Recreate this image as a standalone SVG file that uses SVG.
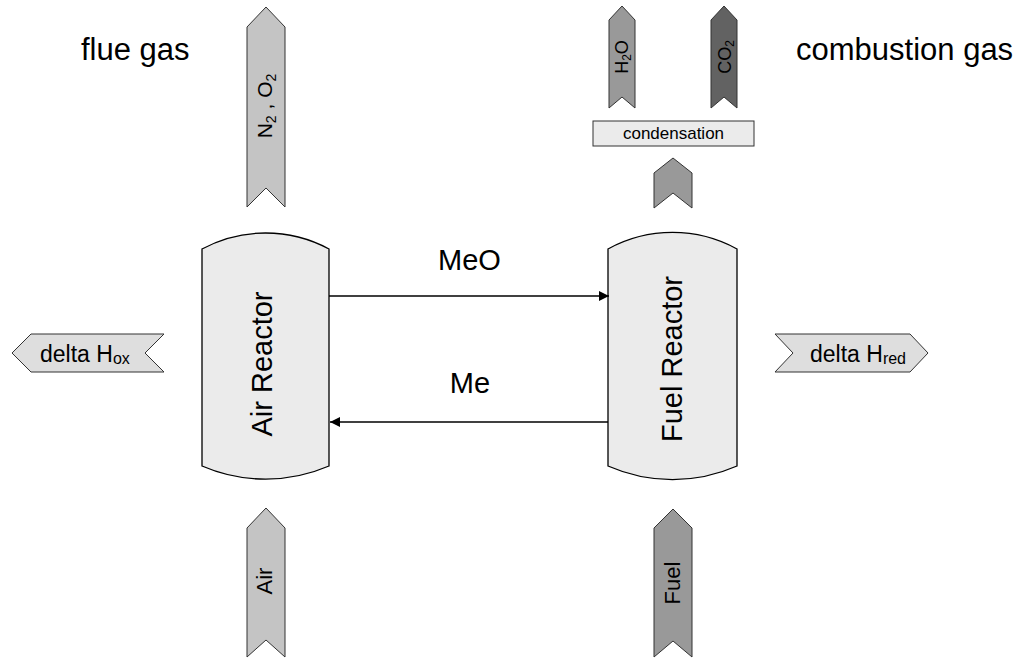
<svg xmlns="http://www.w3.org/2000/svg" width="1023" height="662" viewBox="0 0 1023 662">
<style>
text{font-family:"Liberation Sans",Arial,sans-serif;fill:#000}
.flow{stroke:#333;stroke-width:1}
.light{fill:#c4c4c4}
.mid{fill:#999999}
.dark{fill:#626262}
.reactor{fill:#ebebeb;stroke:#000;stroke-width:1.3}
.heat{fill:#dedede;stroke:#333;stroke-width:1}
.box{fill:#ebebeb;stroke:#333;stroke-width:1}
.conn{stroke:#000;stroke-width:1.3;fill:none}
</style>
<defs>
<marker id="ah" viewBox="0 0 10 10" refX="10" refY="5" markerWidth="10" markerHeight="10" markerUnits="userSpaceOnUse" orient="auto">
<path d="M0,0 L10,5 L0,10 Z" fill="#000"/>
</marker>
</defs>
<rect width="1023" height="662" fill="#fff"/>
<g id="label-flue-gas"><text x="81" y="60" font-size="31">flue gas</text></g>
<g id="label-combustion-gas"><text x="796" y="60" font-size="31">combustion gas</text></g>
<g id="flow-n2o2">
<polygon class="flow light" points="247,27 266,7 285,27 285,207 266,188 247,207"/>
<text transform="translate(272,106) rotate(-90)" text-anchor="middle" font-size="21">N<tspan font-size="14" dy="4">2</tspan><tspan dy="-4"> , O</tspan><tspan font-size="14" dy="4">2</tspan></text>
</g>
<g id="flow-h2o">
<polygon class="flow mid" points="609,20 622,6 635,20 635,108 622,97 609,108"/>
<text transform="translate(628,57) rotate(-90)" text-anchor="middle" font-size="18">H<tspan font-size="12" dy="3">2</tspan><tspan dy="-3">O</tspan></text>
</g>
<g id="flow-co2">
<polygon class="flow dark" points="711,20 724,6 737,20 737,108 724,97 711,108"/>
<text transform="translate(731,57) rotate(-90)" text-anchor="middle" font-size="18">CO<tspan font-size="12" dy="3">2</tspan></text>
</g>
<g id="condensation">
<rect class="box" x="593" y="121" width="161" height="25"/>
<text x="673.5" y="139" text-anchor="middle" font-size="17">condensation</text>
</g>
<g id="flow-to-condensation">
<polygon class="flow mid" points="654,173 673,158 692,173 692,208 673,193 654,208"/>
</g>
<g id="air-reactor">
<path class="reactor" d="M202,249 A134,134 0 0 1 329,249 L329,466 A160,160 0 0 1 202,466 Z"/>
<text transform="translate(272,364) rotate(-90)" text-anchor="middle" font-size="29">Air Reactor</text>
</g>
<g id="fuel-reactor">
<path class="reactor" d="M608,249 A134,134 0 0 1 737,249 L737,466 A160,160 0 0 1 608,466 Z"/>
<text transform="translate(682,359) rotate(-90)" text-anchor="middle" font-size="29">Fuel Reactor</text>
</g>
<g id="heat-ox">
<polygon class="heat" points="12,353 31,334 164,334 145,353 164,372 31,372"/>
<text x="40" y="362" font-size="23">delta H<tspan font-size="16" dy="2">ox</tspan></text>
</g>
<g id="heat-red">
<polygon class="heat" points="775,334 910,334 928,353 910,372 775,372 793,353"/>
<text x="810" y="362" font-size="23">delta H<tspan font-size="16" dy="2">red</tspan></text>
</g>
<g id="flow-air">
<polygon class="flow light" points="247,528 266,508 285,528 285,657 266,640 247,657"/>
<text transform="translate(272,581) rotate(-90)" text-anchor="middle" font-size="22">Air</text>
</g>
<g id="flow-fuel">
<polygon class="flow mid" points="654,528 673,509 692,528 692,657 673,641 654,657"/>
<text transform="translate(680,583) rotate(-90)" text-anchor="middle" font-size="22">Fuel</text>
</g>
<g id="connectors">
<line class="conn" x1="329" y1="296" x2="609" y2="296" marker-end="url(#ah)"/>
<line class="conn" x1="608" y1="422" x2="330" y2="422" marker-end="url(#ah)"/>
<text x="469.5" y="270" text-anchor="middle" font-size="29">MeO</text>
<text x="470" y="393" text-anchor="middle" font-size="29">Me</text>
</g>
</svg>
